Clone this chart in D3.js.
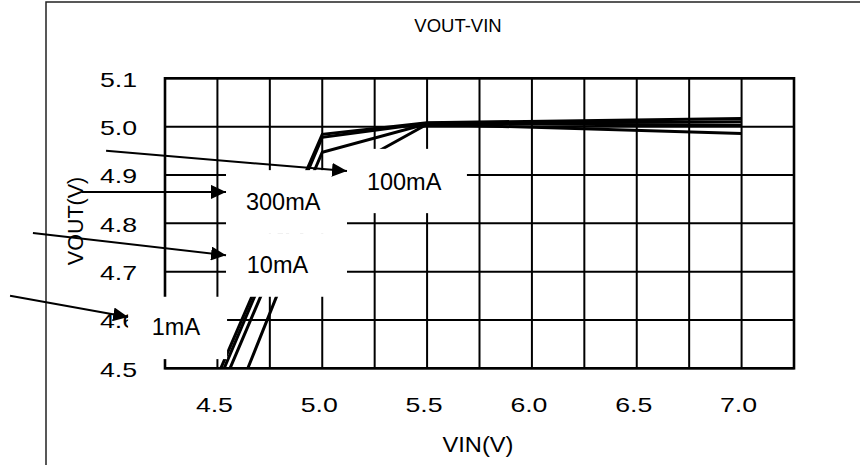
<!DOCTYPE html>
<html>
<head>
<meta charset="utf-8">
<script src="https://cdn.jsdelivr.net/npm/d3@7"></script>
<style>
  body { margin: 0; background: #fff; }
  text { font-family: "Liberation Sans", Arial, sans-serif; fill: #000; }
</style>
</head>
<body>
<svg width="860" height="465"></svg>
<script>
// data, one array per load current
var loads = ["1mA", "10mA", "100mA", "300mA"];
var vin1mA   = [4.516, 5.0, 5.5, 7.0];
var vout1mA  = [4.5, 4.984, 5.008, 5.017];
var vin10mA  = [4.532, 5.0, 5.5, 7.0];
var vout10mA = [4.5, 4.978, 5.007, 5.010];
var vin100mA  = [4.56, 5.0, 5.5, 7.0];
var vout100mA = [4.5, 4.947, 5.006, 5.003];
var vin300mA  = [4.645, 5.0, 5.5, 7.0];
var vout300mA = [4.5, 4.885, 5.005, 4.986];

var xTicks = [4.5, 5.0, 5.5, 6.0, 6.5, 7.0];
var yTicks = [4.5, 4.6, 4.7, 4.8, 4.9, 5.0, 5.1];

var series = [
  d3.zip(vin1mA, vout1mA),
  d3.zip(vin10mA, vout10mA),
  d3.zip(vin100mA, vout100mA),
  d3.zip(vin300mA, vout300mA)
];

// callout boxes and arrows, placed in data units
var notes = [
  {label: "300mA", box: [4.541, 4.910, 5.118, 4.778], at: [4.636, 4.828], from: [3.854, 4.865], to: [4.541, 4.865]},
  {label: "10mA",  box: [4.541, 4.778, 5.118, 4.648], at: [4.640, 4.698], from: [3.620, 4.780], to: [4.541, 4.734]},
  {label: "100mA", box: [5.099, 4.954, 5.690, 4.821], at: [5.213, 4.869], from: [3.969, 4.950], to: [5.118, 4.908]},
  {label: "1mA",   box: [4.074, 4.648, 4.546, 4.519], at: [4.187, 4.569], from: [3.511, 4.650], to: [4.074, 4.606]}
];

var svg = d3.select("svg");

var x = d3.scaleLinear().domain([4.25, 7.25]).range([165, 794]);
var y = d3.scaleLinear().domain([4.5, 5.1]).range([368.3, 78.3]);

// outer frame
svg.append("rect")
  .attr("x", 46).attr("y", 2)
  .attr("width", 900).attr("height", 600)
  .attr("fill", "none").attr("stroke", "#222").attr("stroke-width", 1.5);

svg.append("text")
  .attr("x", 458).attr("y", 32)
  .attr("text-anchor", "middle")
  .style("font-size", "18.5px")
  .text("VOUT-VIN");

// grid
var g = svg.append("g");
g.selectAll(".vx")
  .data(d3.range(4.25, 7.26, 0.25))
  .enter().append("line")
  .attr("x1", function(d) { return x(d); })
  .attr("x2", function(d) { return x(d); })
  .attr("y1", y(5.1)).attr("y2", y(4.5))
  .attr("stroke", "#000").attr("stroke-width", 2);
g.selectAll(".hy")
  .data(yTicks)
  .enter().append("line")
  .attr("y1", function(d) { return y(d); })
  .attr("y2", function(d) { return y(d); })
  .attr("x1", x(4.25)).attr("x2", x(7.25))
  .attr("stroke", "#000").attr("stroke-width", 2);
g.append("rect")
  .attr("x", x(4.25)).attr("y", y(5.1))
  .attr("width", x(7.25) - x(4.25)).attr("height", y(4.5) - y(5.1))
  .attr("fill", "none").attr("stroke", "#000").attr("stroke-width", 2.6);

// tick labels (the source glyphs are a bit wider than Arial)
svg.selectAll(".xl")
  .data(xTicks)
  .enter().append("text")
  .attr("transform", function(d) { return "translate(" + (x(d) - 3) + ",412) scale(1.27,1)"; })
  .attr("text-anchor", "middle")
  .style("font-size", "21px")
  .text(function(d) { return d.toFixed(1); });
svg.selectAll(".yl")
  .data(yTicks)
  .enter().append("text")
  .attr("transform", function(d) { return "translate(137," + (y(d) + 8.5) + ") scale(1.27,1)"; })
  .attr("text-anchor", "end")
  .style("font-size", "21px")
  .text(function(d) { return d.toFixed(1); });

svg.append("text")
  .attr("transform", "translate(478,452) scale(1.1,1)")
  .attr("text-anchor", "middle")
  .style("font-size", "21.5px")
  .text("VIN(V)");
svg.append("text")
  .attr("transform", "translate(83,221) rotate(-90)")
  .attr("text-anchor", "middle")
  .style("font-size", "21.5px")
  .text("VOUT(V)");

// curves
var line = d3.line()
  .x(function(d) { return x(d[0]); })
  .y(function(d) { return y(d[1]); });
svg.selectAll(".curve")
  .data(series)
  .enter().append("path")
  .attr("d", line)
  .attr("fill", "none")
  .attr("stroke", "#000")
  .attr("stroke-width", 3)
  .attr("stroke-linejoin", "miter");

// callouts
svg.append("defs").append("marker")
  .attr("id", "head")
  .attr("markerUnits", "userSpaceOnUse")
  .attr("markerWidth", 16).attr("markerHeight", 14)
  .attr("refX", 15).attr("refY", 7)
  .attr("orient", "auto")
  .append("path")
  .attr("d", "M0,0L15,7L0,14Z")
  .attr("fill", "#000");

svg.selectAll(".box")
  .data(notes)
  .enter().append("rect")
  .attr("x", function(d) { return x(d.box[0]); })
  .attr("y", function(d) { return y(d.box[1]); })
  .attr("width", function(d) { return x(d.box[2]) - x(d.box[0]); })
  .attr("height", function(d) { return y(d.box[3]) - y(d.box[1]); })
  .attr("fill", "#fff");
svg.selectAll(".lab")
  .data(notes)
  .enter().append("text")
  .attr("x", function(d) { return x(d.at[0]); })
  .attr("y", function(d) { return y(d.at[1]); })
  .style("font-size", "23.5px")
  .text(function(d) { return d.label; });
svg.selectAll(".arrow")
  .data(notes)
  .enter().append("line")
  .attr("x1", function(d) { return x(d.from[0]); })
  .attr("y1", function(d) { return y(d.from[1]); })
  .attr("x2", function(d) { return x(d.to[0]); })
  .attr("y2", function(d) { return y(d.to[1]); })
  .attr("stroke", "#000").attr("stroke-width", 2)
  .attr("marker-end", "url(#head)");
</script>
</body>
</html>
